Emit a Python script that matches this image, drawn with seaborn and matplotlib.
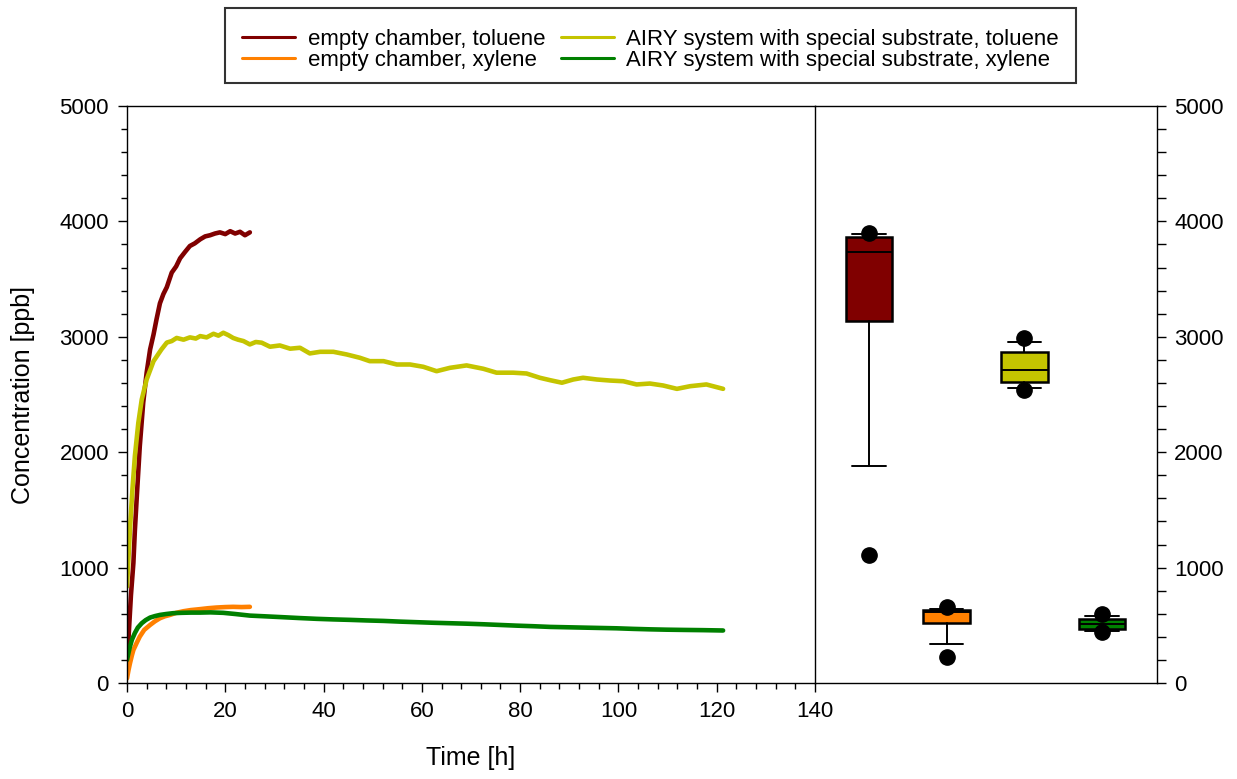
import numpy as np
import pandas as pd
import matplotlib
matplotlib.use("Agg")
import matplotlib.pyplot as plt
from matplotlib.ticker import MultipleLocator
import seaborn as sns

sns.set_theme(style="ticks")
plt.rcParams["font.family"] = ["Liberation Sans", "DejaVu Sans"]
plt.rcParams["text.color"] = "black"
plt.rcParams["axes.labelcolor"] = "black"
plt.rcParams["xtick.color"] = "black"
plt.rcParams["ytick.color"] = "black"

series_names = [
    "empty chamber, toluene",
    "empty chamber, xylene",
    "AIRY system with special substrate, toluene",
    "AIRY system with special substrate, xylene",
]
series_colors = ["#800000", "#FF8000", "#C4C400", "#008000"]

# --- time series (hours, ppb) ---
t_empty_tol = [0, 0.4, 0.8, 1.3, 1.6, 2.0, 2.6, 3.3, 4.0, 4.7, 5.4, 6.0, 6.7, 7.4,
               8.1, 9.1, 10.0, 10.8, 11.8, 12.8, 13.8, 14.9, 15.9, 16.9, 17.9,
               18.9, 20.0, 21.0, 22.0, 23.0, 24.0, 25.0]
c_empty_tol = [150, 460, 760, 1040, 1320, 1620, 2050, 2430, 2690, 2890, 3020, 3150,
               3290, 3370, 3430, 3556, 3610, 3680, 3735, 3787, 3810, 3845, 3870,
               3880, 3895, 3905, 3890, 3915, 3895, 3910, 3880, 3905]

t_empty_xyl = [0, 0.3, 0.6, 1.0, 1.3, 2.0, 2.6, 3.5, 4.7, 5.7, 6.7, 7.7, 8.75,
               10.0, 11.5, 13.0, 14.85, 16.5, 18.2, 20.0, 21.6, 23.3, 25.0]
c_empty_xyl = [40, 110, 170, 240, 286, 350, 402, 460, 503, 535, 561, 578, 590,
               608, 622, 632, 640, 648, 654, 658, 660, 658, 660]

t_airy_tol = [0, 0.3, 0.6, 1.1, 1.6, 2.3, 3.0, 4.0, 5.4, 7.0, 8.1, 9.1, 10.1, 11.5,
              12.8, 14.0, 14.9, 16.2, 17.6, 18.6, 19.6, 20.6, 21.6, 22.6, 23.7,
              25.0, 26.2, 27.4, 29.1, 31.1, 33.2, 35.2, 37.2, 39.3, 42.0, 44.7,
              47.4, 49.4, 52.2, 54.9, 57.6, 60.3, 63.0, 65.7, 69.1, 72.5, 75.2,
              78.6, 81.3, 84.0, 86.1, 88.5, 90.8, 92.8, 95.6, 98.3, 101.0, 103.7,
              106.4, 109.1, 111.9, 114.6, 117.9, 121.3]
c_airy_tol = [836, 1080, 1330, 1675, 1964, 2253, 2457, 2630, 2789, 2890, 2950, 2963,
              2990, 2975, 2995, 2985, 3006, 2995, 3026, 3010, 3035, 3015, 2990,
              2975, 2963, 2934, 2955, 2949, 2914, 2925, 2897, 2905, 2856, 2870,
              2870, 2847, 2818, 2789, 2789, 2760, 2760, 2740, 2702, 2731, 2752,
              2723, 2689, 2689, 2682, 2645, 2624, 2602, 2630, 2645, 2630, 2621,
              2615, 2587, 2595, 2578, 2549, 2572, 2587, 2549]

t_airy_xyl = [0, 0.3, 0.6, 1.0, 1.6, 2.2, 3.0, 3.8, 4.7, 5.7, 6.7, 8.0, 9.4, 11.0,
              13.0, 14.85, 17.0, 19.6, 22.0, 25.0, 28.0, 31.8, 35.0, 38.6, 42.0,
              45.4, 48.8, 52.2, 55.5, 58.9, 62.3, 65.7, 69.1, 72.5, 75.9, 79.3,
              82.7, 86.1, 89.5, 92.8, 96.2, 99.6, 103.0, 106.4, 109.8, 113.2,
              117.2, 121.3]
c_airy_xyl = [200, 260, 315, 375, 433, 480, 518, 545, 567, 580, 590, 598, 605, 608,
              610, 610, 612, 608, 598, 584, 578, 570, 563, 556, 551, 547, 542, 538,
              532, 527, 522, 518, 514, 509, 503, 497, 492, 486, 483, 480, 477, 474,
              469, 465, 462, 460, 458, 455]

# --- box statistics (ppb): 5th, 10th, 25th, 50th, 75th, 90th, 95th percentiles ---
box_order = [0, 1, 2, 3]
p05 = [1111, 229, 2541, 443]
p10 = [1884, 341, 2558, 454]
p25 = [3134, 521, 2604, 471]
p50 = [3735, 619, 2714, 512]
p75 = [3866, 636, 2867, 558]
p90 = [3887, 645, 2957, 582]
p95 = [3903, 656, 2986, 599]

times = [t_empty_tol, t_empty_xyl, t_airy_tol, t_airy_xyl]
concs = [c_empty_tol, c_empty_xyl, c_airy_tol, c_airy_xyl]
df = pd.concat(
    [pd.DataFrame({"Time": t, "Conc": c, "Series": n})
     for n, t, c in zip(series_names, times, concs)],
    ignore_index=True,
)

W, H = 1237, 779
fig = plt.figure(figsize=(W / 100, H / 100), dpi=100)
fig.patch.set_facecolor("white")

ax = fig.add_axes([127 / W, 96 / H, 688 / W, 577 / H])
axb = fig.add_axes([815 / W, 96 / H, 342 / W, 577 / H])

sns.lineplot(data=df, x="Time", y="Conc", hue="Series", hue_order=series_names,
             palette=series_colors, estimator=None, sort=False, lw=3.3, ax=ax)

leg = ax.get_legend()
handles = list(leg.legend_handles)
labels = [t.get_text() for t in leg.get_texts()]
leg.remove()

ax.set_xlim(0, 140)
ax.set_ylim(0, 5000)
ax.xaxis.set_major_locator(MultipleLocator(20))
ax.xaxis.set_minor_locator(MultipleLocator(4))
ax.yaxis.set_major_locator(MultipleLocator(1000))
ax.yaxis.set_minor_locator(MultipleLocator(200))
ax.tick_params(which="major", direction="out", length=6.5, width=1.0,
               labelsize=16, pad=6.5, colors="black")
ax.tick_params(which="minor", direction="out", length=4.0, width=1.0)
ax.spines["right"].set_visible(False)
for s in ["left", "bottom", "top"]:
    ax.spines[s].set_linewidth(1.0)
    ax.spines[s].set_color("black")
ax.set_xlabel("Time [h]", fontsize=18)
ax.set_ylabel("Concentration [ppb]", fontsize=18)
ax.xaxis.set_label_coords(0.5, -0.11)
ax.yaxis.set_label_coords(-0.133, 0.5)

# box plots of the concentration distributions
stats = []
for i in box_order:
    stats.append(dict(whislo=p10[i], q1=p25[i], med=p50[i], q3=p75[i],
                      whishi=p90[i], fliers=[p05[i], p95[i]], label=""))
bp = axb.bxp(stats, positions=[1, 2, 3, 4], widths=0.6, patch_artist=True,
             capwidths=0.43,
             boxprops=dict(edgecolor="black", linewidth=1.8),
             medianprops=dict(color="black", linewidth=1.4),
             whiskerprops=dict(color="black", linewidth=1.4),
             capprops=dict(color="black", linewidth=1.4),
             flierprops=dict(marker="o", markerfacecolor="black",
                             markeredgecolor="black", markersize=11))
for patch, col in zip(bp["boxes"], series_colors):
    patch.set_facecolor(col)

axb.set_xlim(0.304, 4.71)
axb.set_ylim(0, 5000)
axb.set_xticks([])
axb.yaxis.tick_right()
axb.yaxis.set_major_locator(MultipleLocator(1000))
axb.yaxis.set_minor_locator(MultipleLocator(200))
axb.tick_params(axis="y", which="both", direction="out", length=6.5, width=1.0,
                labelsize=16, pad=6, colors="black")
for s in axb.spines.values():
    s.set_linewidth(1.0)
    s.set_color("black")

lg = fig.legend(handles, labels, ncol=2, loc="upper center",
                bbox_to_anchor=(650.5 / W, 1 - 8 / H), borderaxespad=0,
                fontsize=16, frameon=True, fancybox=False, edgecolor="black",
                handlelength=2.4, handletextpad=0.55, columnspacing=0.7,
                labelspacing=0.0, borderpad=0.75)
lg.get_frame().set_linewidth(1.5)
# nudge entries a little lower inside the frame
for txt in lg.get_texts():
    txt.set_y(-4)
for h in lg.get_lines():
    h.set_linewidth(2.2)
    h.set_ydata([y - 4 * 72 / 100 for y in h.get_ydata()])

fig.savefig("out.png", dpi=100, facecolor="white")
